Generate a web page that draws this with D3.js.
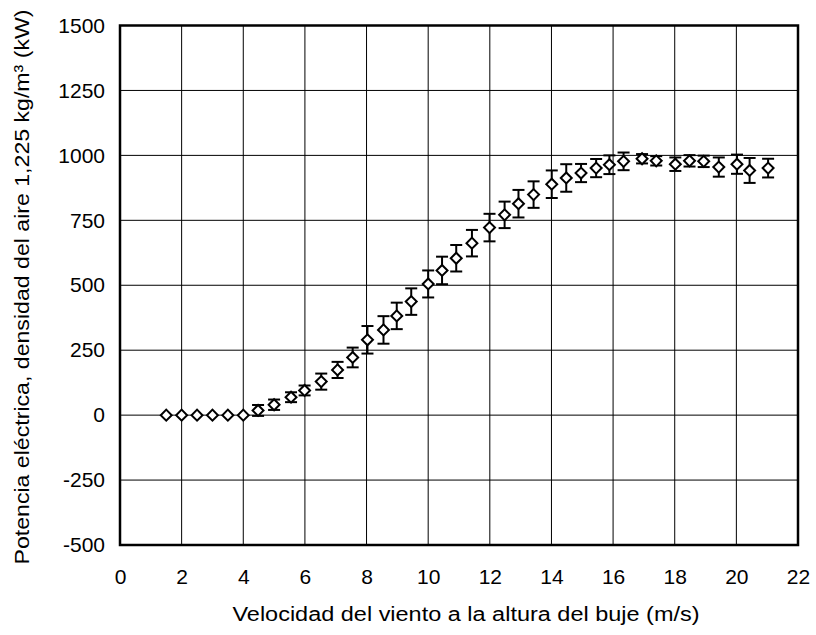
<!doctype html>
<html>
<head>
<meta charset="utf-8">
<style>
  body { margin: 0; background: #fff; }
  text { font-family: "Liberation Sans", Arial, sans-serif; fill: #000; }
</style>
</head>
<body>
<svg id="chart" width="816" height="635"></svg>
<script src="https://d3js.org/d3.v7.min.js"></script>
<script>
// wind speed bins (m/s), measured power (kW) and error half-width (kW)
const speed = [1.5, 2, 2.5, 3, 3.5, 4, 4.48, 5.0, 5.55, 5.99, 6.53, 7.06, 7.55, 8.03,
  8.55, 8.98, 9.45, 10.0, 10.45, 10.91, 11.42, 11.99, 12.48, 12.93, 13.42, 14.01,
  14.48, 14.96, 15.45, 15.88, 16.34, 16.94, 17.40, 18.02, 18.48, 18.94, 19.43,
  20.02, 20.43, 21.03];
const power = [0, 0, 0, 0, 0, 0, 18, 40, 69, 95, 129, 174, 222, 290, 328, 382, 437,
  505, 557, 604, 662, 722, 771, 814, 849, 889, 913, 932, 951, 964, 977, 987, 979,
  966, 979, 977, 955, 966, 942, 951];
const err = [0, 0, 0, 0, 0, 0, 21, 20, 19, 19, 31, 31, 38, 53, 53, 51, 51, 52, 53,
  51, 51, 53, 51, 53, 51, 53, 53, 35, 35, 36, 34, 18, 18, 26, 22, 22, 37, 37, 48, 36];

const xTicks = d3.range(0, 23, 2);
const yTicks = d3.range(-500, 1501, 250);

const xLabel = "Velocidad del viento a la altura del buje (m/s)";
const yLabel = "Potencia eléctrica, densidad del aire 1,225 kg/m³ (kW)";

const data = speed.map((s, i) => ({ x: s, y: power[i], e: err[i] }));

const margin = { left: 120, top: 25.5, right: 18, bottom: 90 };
const width = 816 - margin.left - margin.right;
const height = 635 - margin.top - margin.bottom;

const svg = d3.select('#chart');
const g = svg.append('g')
  .attr('transform', `translate(${margin.left},${margin.top})`);

const x = d3.scaleLinear().domain([0, 22]).range([0, width]);
const y = d3.scaleLinear().domain([-500, 1500]).range([height, 0]);

// grid
g.append('g')
  .selectAll('line')
  .data(xTicks)
  .join('line')
  .attr('x1', d => x(d)).attr('x2', d => x(d))
  .attr('y1', 0).attr('y2', height)
  .attr('stroke', '#000').attr('stroke-width', 1);

g.append('g')
  .selectAll('line')
  .data(yTicks)
  .join('line')
  .attr('x1', 0).attr('x2', width)
  .attr('y1', d => y(d)).attr('y2', d => y(d))
  .attr('stroke', '#000').attr('stroke-width', 1);

// axes (labels only, ticks hidden)
const fmt = d => String(d);
const xAxis = g.append('g')
  .attr('transform', `translate(0,${height})`)
  .call(d3.axisBottom(x).tickValues(xTicks).tickFormat(fmt).tickSize(0).tickPadding(24));
const yAxis = g.append('g')
  .call(d3.axisLeft(y).tickValues(yTicks).tickFormat(fmt).tickSize(0).tickPadding(15));
[xAxis, yAxis].forEach(a => {
  a.select('.domain').remove();
  a.selectAll('text')
    .style('font-family', '"Liberation Sans", Arial, sans-serif')
    .style('font-size', '21px')
    .attr('fill', '#000');
});

// frame
g.append('rect')
  .attr('width', width).attr('height', height)
  .attr('fill', 'none').attr('stroke', '#000').attr('stroke-width', 2.5);

// error bars
const bars = g.append('g')
  .selectAll('g')
  .data(data.filter(d => d.e > 0))
  .join('g')
  .attr('stroke', '#000').attr('stroke-width', 2);
bars.append('line')
  .attr('x1', d => x(d.x)).attr('x2', d => x(d.x))
  .attr('y1', d => y(d.y - d.e)).attr('y2', d => y(d.y + d.e));
bars.append('line')
  .attr('x1', d => x(d.x) - 6).attr('x2', d => x(d.x) + 6)
  .attr('y1', d => y(d.y + d.e)).attr('y2', d => y(d.y + d.e));
bars.append('line')
  .attr('x1', d => x(d.x) - 6).attr('x2', d => x(d.x) + 6)
  .attr('y1', d => y(d.y - d.e)).attr('y2', d => y(d.y - d.e));

// diamond markers
const diamond = d3.symbol(d3.symbolSquare, 60);
g.append('g')
  .selectAll('path')
  .data(data)
  .join('path')
  .attr('d', diamond)
  .attr('transform', d => `translate(${x(d.x)},${y(d.y)}) rotate(45)`)
  .attr('fill', '#fff')
  .attr('stroke', '#000')
  .attr('stroke-width', 2);

// titles
svg.append('text')
  .attr('x', 466)
  .attr('y', 621)
  .attr('text-anchor', 'middle')
  .attr('textLength', 467)
  .attr('lengthAdjust', 'spacingAndGlyphs')
  .style('font-size', '20px')
  .text(xLabel);

svg.append('text')
  .attr('transform', `translate(29,287) rotate(-90)`)
  .attr('text-anchor', 'middle')
  .attr('textLength', 555)
  .attr('lengthAdjust', 'spacingAndGlyphs')
  .style('font-size', '20px')
  .text(yLabel);
</script>
</body>
</html>
